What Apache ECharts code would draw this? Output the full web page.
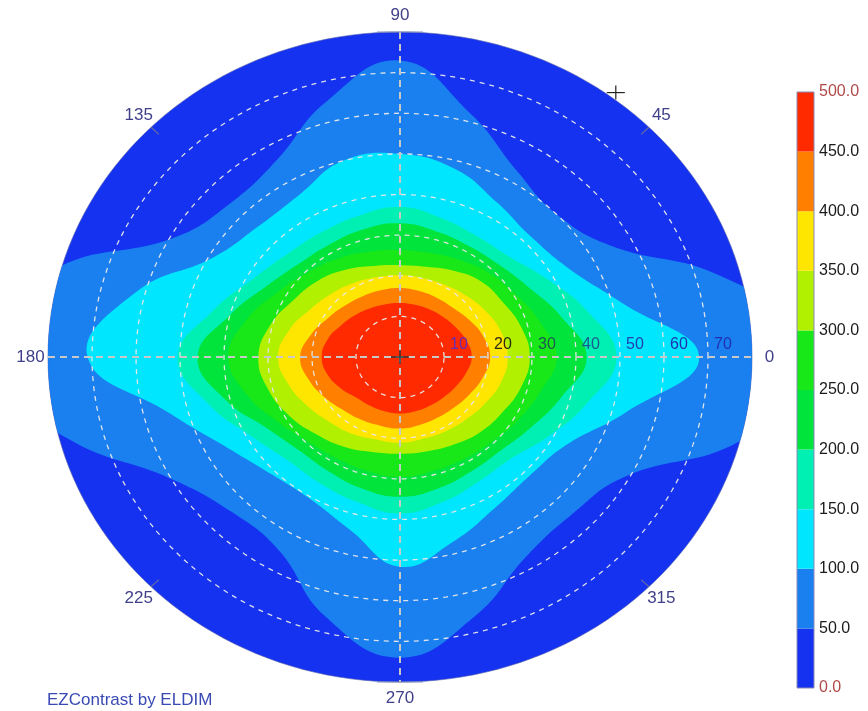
<!DOCTYPE html>
<html><head><meta charset="utf-8">
<script src="https://cdn.jsdelivr.net/npm/echarts@6/dist/echarts.min.js"></script>
<style>html,body{margin:0;padding:0;background:#fff}#c{width:868px;height:711px}</style>
</head><body><div id="c"></div>
<script>
// azimuth (deg, counter-clockwise from the right) at which boundaries were read
const azimuths = [0,15,30,45,60,75,90,105,120,135,150,165,180,195,210,225,240,255,270,285,300,315,330,345];
// contour levels and the polar-angle radius (deg) of each level boundary along each azimuth
const contourLevels = [50,100,150,200,250,300,350,400,450];
const r50  = [100,76,55,50,53,62,73,65,56,54,59,82,100,78,60,54,55,66,74,66,57,55,59,80];
const r100 = [68,52,44,42,44,48,50,50,46,45.5,49,62,71,54,45,41,40.5,44,51.6,47,43,41.5,43.5,53];
const r150 = [49.2,44,38.5,35,34.5,35.5,36.9,36,35.5,36,38.5,44,50.5,45,39,36,36,37,38.5,37,35.5,35.5,39,44];
const r200 = [42.4,38,34,32,31.5,32,32.9,32.5,32,32.5,35,40,46,41,35,32.5,32.5,33.5,34.4,33.5,32.5,32.5,34.5,38];
const r250 = [35.6,33,30.5,29,27.5,26.5,26.3,26.8,28,29.5,32,36,39,36,32,29.5,28.8,29,29.5,29,29,29.5,31,33];
const r300 = [29.5,28.5,27,26.2,24.5,23,22.6,23.2,24.8,26.5,28,30.5,32.2,31,29,26.9,25.5,24.2,23.8,24,24.8,26,27,28.5];
const r350 = [24.5,23.8,22.5,21.3,20.5,20.1,20.1,20.3,21,22,23.5,26,27.7,26.2,24.2,22.6,21.8,21,21.1,20.8,21,21.5,22.5,23.8];
const r400 = [20.5,19.6,18.2,17.1,16.8,16.8,17,17,17.2,17.8,19,21,22.7,21.5,19.8,18.4,17.8,17.5,17.6,17.3,17.2,17.5,18.3,19.5];
const r450 = [16.3,15.6,14.6,13.9,13.5,13.3,13.3,13.4,13.8,14.5,15.5,17,17.8,17,15.5,14.1,13.8,13.8,13.9,13.8,13.8,14,14.6,15.5];
const boundaries = [r50,r100,r150,r200,r250,r300,r350,r400,r450];
// band colours 0-50 ... 450-500
const bandColors = ['#1432f0','#1a80f0','#00e6ff','#00f0b4','#00e43c','#18e818','#b0f000','#ffe600','#ff8000','#ff2a00'];
const bandValues = [50,50,50,50,50,50,50,50,50,50];
const maxTheta = 80;
const ringValues = [10,20,30,40,50,60,70];
const ringLabelColors = ['#6a2cb0','#2a2a10','#1a5a50','#1a5a90','#2040b0','#2030b0','#2030b0'];
const angleTicks = [0,45,90,135,180,225,270,315];
const angleTickLabels = ['0','45','90','135','180','225','270','315'];
const markerAzimuth = [53];
const markerRadius = [81.5];

function toXY(r, deg){ const a = deg*Math.PI/180; return [r*Math.cos(a), r*Math.sin(a)]; }
function ringPts(api, r){ const p=[]; for(let d=0; d<360; d+=2) p.push(api.coord(toXY(r,d))); return p; }

const chart = echarts.init(document.getElementById('c'), null, {renderer:'canvas'});
const FONT = '"Liberation Sans", Arial, sans-serif';

const contourSeries = {
  type:'custom', coordinateSystem:'cartesian2d', xAxisIndex:0, yAxisIndex:0,
  silent:true, clip:false, z:1,
  data: bandColors.map((c,i)=>[0,0,i]),
  renderItem(params, api){
    const i = params.dataIndex;
    const edge = ringPts(api, maxTheta);
    if(i===0){
      return {type:'polygon', shape:{points:edge}, style:{fill:bandColors[0], stroke:'rgba(90,100,170,0.6)', lineWidth:1}};
    }
    const radii = boundaries[i-1];
    const pts = azimuths.map((az,k)=>api.coord(toXY(radii[k], az)));
    return {type:'polygon', shape:{points:pts, smooth:0.45}, style:{fill:bandColors[i]},
            clipPath:{type:'polygon', shape:{points:edge}}};
  }
};

const overlaySeries = {
  type:'custom', coordinateSystem:'cartesian2d', xAxisIndex:0, yAxisIndex:0,
  silent:true, clip:false, z:5,
  data:[[0,0]],
  renderItem(params, api){
    const ch = [];
    ringValues.forEach(v=>{
      ch.push({type:'polygon', shape:{points:ringPts(api,v)},
        style:{fill:'none', stroke:'rgba(232,232,232,0.95)', lineWidth:1.3, lineDash:[5,5]}});
    });
    const L = api.coord([-maxTheta,0]), R = api.coord([maxTheta,0]);
    const T = api.coord([0,maxTheta]), B = api.coord([0,-maxTheta]);
    ch.push({type:'line', shape:{x1:L[0],y1:L[1],x2:R[0],y2:R[1]}, style:{stroke:'#c8c8c8', lineWidth:2, lineDash:[7,5]}});
    ch.push({type:'line', shape:{x1:T[0],y1:T[1],x2:B[0],y2:B[1]}, style:{stroke:'#c8c8c8', lineWidth:2, lineDash:[7,5]}});
    // ticks on the rim
    [45,135,225,315].forEach(a=>{
      const p1 = api.coord(toXY(maxTheta,a)), p2 = api.coord(toXY(maxTheta-2.5,a));
      ch.push({type:'line', shape:{x1:p1[0],y1:p1[1],x2:p2[0],y2:p2[1]}, style:{stroke:'#6a6aa0', lineWidth:1.2}});
    });
    [90,270].forEach(a=>{
      const c = api.coord(toXY(maxTheta,a));
      ch.push({type:'line', shape:{x1:c[0]-23,y1:c[1],x2:c[0]+23,y2:c[1]}, style:{stroke:'#8088b8', lineWidth:1.2}});
    });
    // centre cross
    const O = api.coord([0,0]);
    ch.push({type:'line', shape:{x1:O[0]-9,y1:O[1],x2:O[0]+9,y2:O[1]}, style:{stroke:'#333', lineWidth:1.5}});
    ch.push({type:'line', shape:{x1:O[0],y1:O[1]-7,x2:O[0],y2:O[1]+7}, style:{stroke:'#333', lineWidth:1.5}});
    // marker cross
    markerAzimuth.forEach((az,k)=>{
      const m = api.coord(toXY(markerRadius[k], az));
      ch.push({type:'line', shape:{x1:m[0]-9,y1:m[1],x2:m[0]+9,y2:m[1]}, style:{stroke:'#222', lineWidth:1.2}});
      ch.push({type:'line', shape:{x1:m[0],y1:m[1]-7,x2:m[0],y2:m[1]+7}, style:{stroke:'#222', lineWidth:1.2}});
    });
    // radial labels
    ringValues.forEach((v,k)=>{
      const p = api.coord([v,0]);
      ch.push({type:'text', x:p[0]+6, y:p[1]-4, style:{text:String(v), fill:ringLabelColors[k], font:'16px '+FONT, align:'left', verticalAlign:'bottom'}});
    });
    // angle labels
    angleTicks.forEach((a,k)=>{
      const p = api.coord(toXY(84,a));
      ch.push({type:'text', x:p[0], y:p[1], style:{text:angleTickLabels[k], fill:'#40408a', font:'17px '+FONT, align:'center', verticalAlign:'middle'}});
    });
    return {type:'group', children:ch};
  }
};

const colorbarSeries = bandColors.map((c,i)=>({
  type:'bar', xAxisIndex:1, yAxisIndex:1, stack:'cb', barWidth:'100%', silent:true,
  data:[bandValues[i]], itemStyle:{color:c}
}));

chart.setOption({
  animation:false,
  backgroundColor:'#ffffff',
  grid:[
    {left:48, right:116, top:32, bottom:29},
    {left:797, width:17, top:92, height:596, show:true, borderColor:'#8a8ab8', borderWidth:1, backgroundColor:'transparent', z:10}
  ],
  xAxis:[
    {type:'value', min:-80, max:80, show:false, gridIndex:0},
    {type:'category', data:['scale'], show:false, gridIndex:1}
  ],
  yAxis:[
    {type:'value', min:-80, max:80, show:false, gridIndex:0},
    {type:'value', gridIndex:1, min:0, max:500, interval:50, position:'right',
     axisLine:{show:false}, axisTick:{show:false}, splitLine:{show:false},
     axisLabel:{margin:5, fontSize:16, fontFamily:FONT,
       formatter:v=>v.toFixed(1),
       color:(v)=> (Number(v)===0||Number(v)===500)?'#b04a4a':'#1a1a1a'}}
  ],
  graphic:[{type:'text', left:47, top:692, style:{text:'EZContrast by ELDIM', fill:'#3a4ab4', font:'17px '+FONT}}],
  series:[contourSeries, overlaySeries].concat(colorbarSeries)
});
</script></body></html>
